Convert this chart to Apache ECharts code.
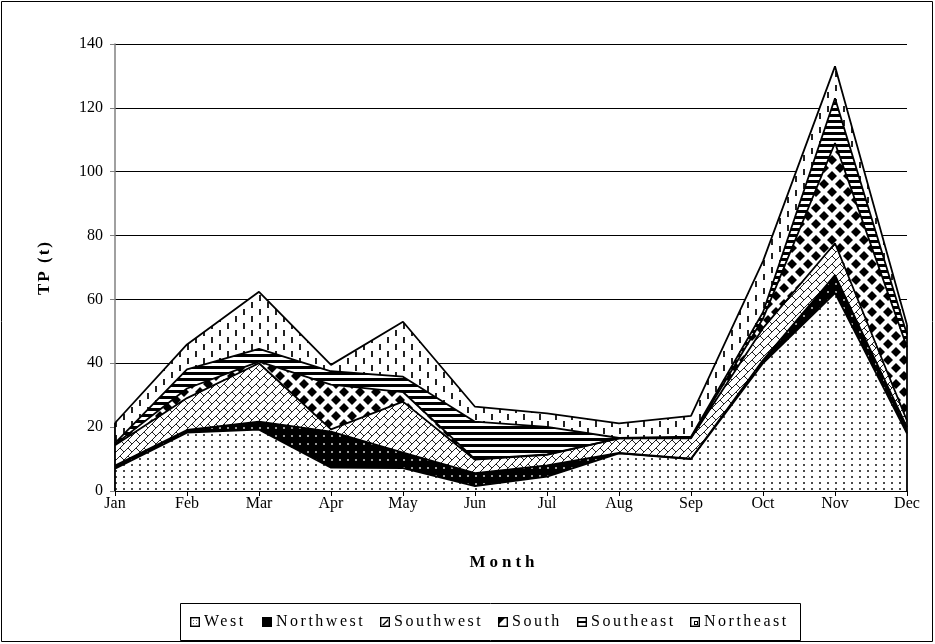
<!DOCTYPE html>
<html>
<head>
<meta charset="utf-8">
<script src="https://cdn.jsdelivr.net/npm/echarts@6/dist/echarts.min.js"></script>
<style>
  html, body { margin: 0; padding: 0; background: #fff; }
  #chart { width: 935px; height: 644px; }
</style>
</head>
<body>
<div id="chart"></div>
<script>
// Monthly TP load (t) per region, stacked bottom to top
const months    = ['Jan', 'Feb', 'Mar', 'Apr', 'May', 'Jun', 'Jul', 'Aug', 'Sep', 'Oct', 'Nov', 'Dec'];
const west      = [7.0, 18.3, 19.2, 7.3, 7.2, 1.5, 4.5, 11.8, 10.0, 40.0, 62.0, 18.0];
const northwest = [1.0, 0.8, 2.5, 11.3, 4.8, 4.1, 3.5, 0.1, 0.1, 1.0, 5.6, 2.0];
const southwest = [6.3, 10.0, 18.3, 0.7, 16.0, 4.2, 3.3, 4.6, 6.4, 10.0, 10.0, 2.0];
const south     = [0.3, 3.0, 0.5, 14.0, 3.0, 0.2, 0.2, 0.0, 0.2, 3.0, 31.4, 23.0];
const southeast = [0.4, 6.0, 4.0, 4.2, 4.8, 11.7, 8.6, 0.1, 0.3, 2.0, 14.0, 4.0];
const northeast = [6.3, 7.8, 17.9, 2.0, 17.2, 4.7, 4.2, 4.6, 6.5, 16.0, 10.0, 3.0];
const yTicks = [0, 20, 40, 60, 80, 100, 120, 140];

const regionNames = ['West', 'Northwest', 'Southwest', 'South', 'Southeast', 'Northeast'];
const regionData  = [west, northwest, southwest, south, southeast, northeast];

// ---- fill patterns (small repeating tiles) ----
function tile(w, h, bg, draw) {
  const c = document.createElement('canvas');
  c.width = w; c.height = h;
  const g = c.getContext('2d');
  g.fillStyle = bg; g.fillRect(0, 0, w, h);
  draw(g, w, h);
  return c;
}
const patDots = tile(8, 6, '#fff', g => {
  g.fillStyle = '#4a4a4a'; g.fillRect(3, 2, 2, 2);
});
const patBlackDots = tile(8, 8, '#000', g => {
  g.fillStyle = '#9a9a9a'; g.fillRect(3, 3, 2, 2);
});
// diagonal brick: continuous "/" courses with staggered "\" joints
const patBrick = tile(16, 16, '#fff', g => {
  g.strokeStyle = '#222'; g.lineWidth = 1;
  g.beginPath();
  for (let k = -8; k <= 8; k++) {
    const u = 8 * k;
    g.moveTo(-32, u + 32); g.lineTo(48, u - 48);
    for (let m = -6; m <= 6; m++) {
      const v = 16 * m + (Math.abs(k) % 2 ? 8 : 0);
      g.moveTo((u + v) / 2, (u - v) / 2);
      g.lineTo((u + 8 + v) / 2, (u + 8 - v) / 2);
    }
  }
  g.stroke();
});
const patDiamond = tile(16, 16, '#fff', g => {
  g.fillStyle = '#000';
  const r = 5;
  [[8, 8], [0, 0], [16, 0], [0, 16], [16, 16]].forEach(([cx, cy]) => {
    g.beginPath();
    g.moveTo(cx, cy - r); g.lineTo(cx + r, cy); g.lineTo(cx, cy + r); g.lineTo(cx - r, cy);
    g.closePath(); g.fill();
  });
});
const patStripes = tile(8, 6, '#fff', g => {
  g.fillStyle = '#000'; g.fillRect(0, 0, 8, 3);
});
const patDashes = tile(16, 14, '#fff', g => {
  g.fillStyle = '#222';
  g.fillRect(3, 1, 2, 6);
  g.fillRect(11, 8, 2, 6);
});
const patterns = [patDots, patBlackDots, patBrick, patDiamond, patStripes, patDashes];

// ---- legend icons ----
function icon(draw) {
  const c = document.createElement('canvas');
  c.width = 10; c.height = 10;
  const g = c.getContext('2d');
  g.fillStyle = '#fff'; g.fillRect(0, 0, 10, 10);
  draw(g);
  g.strokeStyle = '#000'; g.lineWidth = 1.4; g.strokeRect(0.7, 0.7, 8.6, 8.6);
  return 'image://' + c.toDataURL();
}
const legendIcons = [
  icon(g => { g.fillStyle = '#777'; g.fillRect(3, 3, 1, 1); g.fillRect(6, 6, 1, 1); g.fillRect(3, 6, 1, 1); g.fillRect(6, 3, 1, 1); }),
  icon(g => { g.fillStyle = '#000'; g.fillRect(0, 0, 10, 10); }),
  icon(g => { g.fillStyle = '#000'; g.beginPath(); g.moveTo(2, 8); g.lineTo(8, 2); g.lineTo(8, 4); g.lineTo(4, 8); g.closePath(); g.fill(); }),
  icon(g => { g.fillStyle = '#000'; g.beginPath(); g.moveTo(1, 1); g.lineTo(7, 1); g.lineTo(1, 7); g.closePath(); g.fill(); }),
  icon(g => { g.fillStyle = '#000'; g.fillRect(0, 4, 10, 2); }),
  icon(g => { g.fillStyle = '#000'; g.fillRect(4, 4, 4, 4); g.fillStyle = '#fff'; g.fillRect(5, 5, 2, 2); })
];
const legendLeft = [190, 262, 380, 498, 577, 690];

const serif = '"Liberation Serif", "Times New Roman", serif';
const decTotal = regionData.reduce((s, arr) => s + arr[arr.length - 1], 0);
const janTotal = regionData.reduce((s, arr) => s + arr[0], 0);

const series = [];
regionNames.forEach((name, i) => {
  series.push({
    name: name,
    type: 'line',
    stack: 'area',
    data: regionData[i],
    symbol: 'none',
    silent: true,
    lineStyle: { width: 0, opacity: 0 },
    areaStyle: { color: { image: patterns[i], repeat: 'repeat' }, opacity: 1 },
    z: 2
  });
});
// outlines of every stacked layer, drawn above all fills
regionNames.forEach((name, i) => {
  series.push({
    name: name,
    type: 'line',
    stack: 'outline',
    data: regionData[i],
    symbol: 'none',
    silent: true,
    lineStyle: { color: '#000', width: 1.8 },
    z: 4,
    markLine: i === regionNames.length - 1 ? {
      symbol: 'none', silent: true, label: { show: false },
      lineStyle: { color: '#000', width: 1.8, type: 'solid' },
      data: [
        [{ coord: ['Jan', 0] }, { coord: ['Jan', janTotal] }],
        [{ coord: ['Dec', 0] }, { coord: ['Dec', decTotal] }]
      ]
    } : undefined
  });
});

const legends = regionNames.map((name, i) => ({
  data: [{ name: name, icon: legendIcons[i] }],
  left: legendLeft[i],
  top: 614,
  itemWidth: 10,
  itemHeight: 10,
  itemGap: 0,
  padding: 0,
  selectedMode: false,
  textStyle: { fontFamily: serif, fontSize: 16, color: '#000', padding: [0, 0, 0, -1] }
}));

// wider tracking for the titles and legend entries only
const tracking = { 'Month': '4px', 'TP (t)': '2px' };
regionNames.forEach(n => { tracking[n] = '2.5px'; });
const ctxProto = window.CanvasRenderingContext2D && CanvasRenderingContext2D.prototype;
if (ctxProto && 'letterSpacing' in ctxProto) {
  const baseFill = ctxProto.fillText;
  ctxProto.fillText = function (text) {
    const sp = tracking[text];
    if (!sp) return baseFill.apply(this, arguments);
    this.save();
    this.letterSpacing = sp;
    baseFill.apply(this, arguments);
    this.restore();
  };
}

const chart = echarts.init(document.getElementById('chart'), null, { renderer: 'canvas' });
chart.setOption({
  animation: false,
  backgroundColor: '#fff',
  grid: { left: 115, right: 28, top: 44, bottom: 153 },
  legend: legends,
  xAxis: {
    type: 'category',
    data: months,
    boundaryGap: false,
    name: 'Month',
    nameLocation: 'middle',
    nameGap: 63,
    nameTextStyle: { fontFamily: serif, fontSize: 17, fontWeight: 'bold', color: '#000', padding: [0, 14, 0, 0] },
    axisLine: { lineStyle: { color: '#000', width: 1 } },
    axisTick: { show: true, alignWithLabel: true, length: 5, lineStyle: { color: '#000' } },
    axisLabel: { fontFamily: serif, fontSize: 16, color: '#000', margin: 5 },
    splitLine: { show: false }
  },
  yAxis: {
    type: 'value',
    min: yTicks[0],
    max: yTicks[yTicks.length - 1],
    interval: 20,
    name: 'TP (t)',
    nameLocation: 'middle',
    nameGap: 62,
    nameRotate: 90,
    nameTextStyle: { fontFamily: serif, fontSize: 17, fontWeight: 'bold', color: '#000' },
    axisLine: { show: true, lineStyle: { color: '#808080', width: 1.5 } },
    axisTick: { show: true, length: 5, lineStyle: { color: '#808080' } },
    axisLabel: { fontFamily: serif, fontSize: 16, color: '#000', margin: 12 },
    splitLine: { show: true, lineStyle: { color: '#000', width: 1 } }
  },
  graphic: [
    { type: 'rect', silent: true, z: 0, shape: { x: 1.5, y: 1.5, width: 931, height: 640 },
      style: { fill: 'none', stroke: '#000', lineWidth: 1 } },
    { type: 'rect', silent: true, z: 0, shape: { x: 180.5, y: 603.5, width: 620, height: 37 },
      style: { fill: 'none', stroke: '#000', lineWidth: 1 } }
  ],
  series: series
});
</script>
</body>
</html>
